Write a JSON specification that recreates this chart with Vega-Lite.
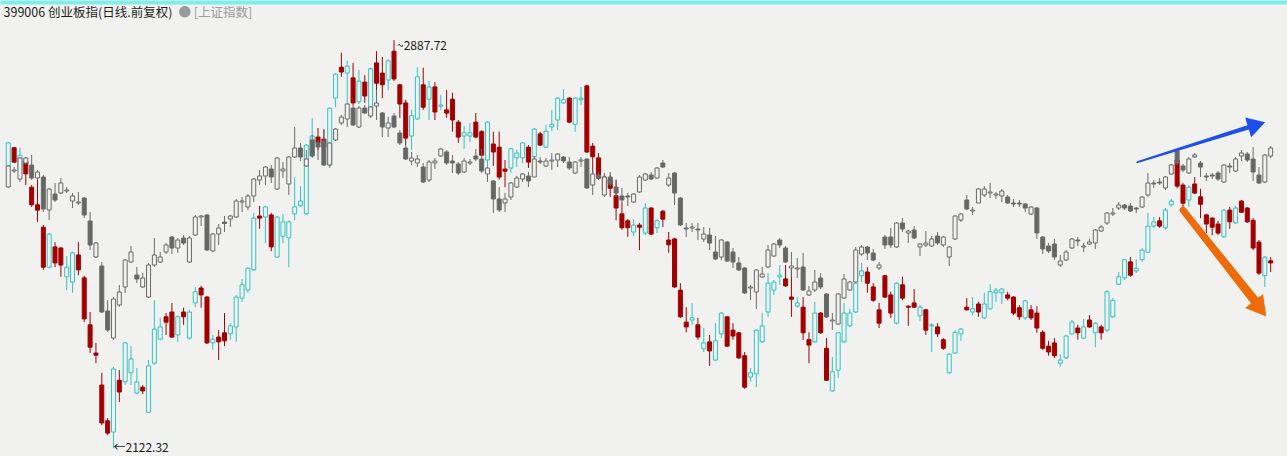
{
"$schema":"https://vega.github.io/schema/vega-lite/v6.json",
"width":1287,"height":456,
"autosize":{"type":"fit","contains":"padding"},
"padding":0,
"background":"#f1f1ef",
"config":{"view":{"stroke":null},"font":"Noto Sans CJK SC","axis":{"grid":false}},
"datasets":{
"cyb":[
{"i":0,"o":2652,"h":2697,"l":2650,"c":2695},{"i":1,"o":2686,"h":2687,"l":2657,"c":2659},{"i":2,"o":2644,"h":2686,"l":2640,"c":2672},{"i":3,"o":2661,"h":2669,"l":2616,"c":2637},{"i":4,"o":2612,"h":2616,"l":2575,"c":2579},{"i":5,"o":2579,"h":2629,"l":2547,"c":2569},{"i":6,"o":2537,"h":2541,"l":2457,"c":2462},{"i":7,"o":2462,"h":2526,"l":2460,"c":2524},{"i":8,"o":2500,"h":2509,"l":2462,"c":2470},{"i":9,"o":2498,"h":2500,"l":2444,"c":2466},
{"i":10,"o":2444,"h":2483,"l":2419,"c":2462},{"i":11,"o":2434,"h":2491,"l":2414,"c":2489},{"i":12,"o":2485,"h":2509,"l":2447,"c":2457},{"i":13,"o":2442,"h":2446,"l":2359,"c":2365},{"i":14,"o":2354,"h":2378,"l":2301,"c":2312},{"i":15,"o":2301,"h":2320,"l":2282,"c":2297},{"i":16,"o":2241,"h":2264,"l":2166,"c":2170},{"i":17,"o":2174,"h":2179,"l":2147,"c":2151},{"i":18,"o":2153,"h":2275,"l":2122.32,"c":2271},{"i":19,"o":2250,"h":2269,"l":2209,"c":2228},
{"i":20,"o":2247,"h":2322,"l":2241,"c":2320},{"i":21,"o":2264,"h":2314,"l":2241,"c":2290},{"i":22,"o":2226,"h":2273,"l":2224,"c":2247},{"i":23,"o":2237,"h":2241,"l":2224,"c":2230},{"i":24,"o":2190,"h":2288,"l":2189,"c":2277},{"i":25,"o":2282,"h":2400,"l":2279,"c":2346},{"i":26,"o":2327,"h":2367,"l":2326,"c":2350},{"i":27,"o":2369,"h":2376,"l":2335,"c":2359},{"i":28,"o":2378,"h":2395,"l":2329,"c":2331},{"i":29,"o":2335,"h":2372,"l":2322,"c":2369},
{"i":30,"o":2378,"h":2386,"l":2354,"c":2369},{"i":31,"o":2329,"h":2382,"l":2326,"c":2378},{"i":32,"o":2395,"h":2425,"l":2387,"c":2416},{"i":33,"o":2423,"h":2427,"l":2386,"c":2410},{"i":34,"o":2406,"h":2408,"l":2318,"c":2320},{"i":35,"o":2320,"h":2335,"l":2307,"c":2327},{"i":36,"o":2331,"h":2344,"l":2288,"c":2322},{"i":37,"o":2339,"h":2376,"l":2314,"c":2324},{"i":38,"o":2337,"h":2357,"l":2326,"c":2352},{"i":39,"o":2350,"h":2410,"l":2322,"c":2406},
{"i":40,"o":2404,"h":2440,"l":2397,"c":2429},{"i":41,"o":2419,"h":2462,"l":2414,"c":2460},{"i":42,"o":2457,"h":2564,"l":2455,"c":2554},{"i":43,"o":2558,"h":2577,"l":2534,"c":2554},{"i":44,"o":2556,"h":2577,"l":2507,"c":2575},{"i":45,"o":2560,"h":2564,"l":2492,"c":2500},{"i":46,"o":2481,"h":2558,"l":2479,"c":2556},{"i":47,"o":2520,"h":2562,"l":2507,"c":2547},{"i":48,"o":2517,"h":2550,"l":2462,"c":2547},{"i":49,"o":2562,"h":2631,"l":2550,"c":2575},
{"i":50,"o":2577,"h":2614,"l":2575,"c":2586},{"i":51,"o":2562,"h":2693,"l":2560,"c":2691},{"i":52,"o":2672,"h":2742,"l":2669,"c":2708},{"i":53,"o":2706,"h":2723,"l":2682,"c":2695},{"i":54,"o":2702,"h":2721,"l":2682,"c":2687},{"i":55,"o":2654,"h":2762,"l":2652,"c":2760},{"i":56,"o":2779,"h":2826,"l":2762,"c":2824},{"i":57,"o":2837,"h":2864,"l":2819,"c":2828},{"i":58,"o":2826,"h":2849,"l":2770,"c":2839},{"i":59,"o":2817,"h":2845,"l":2766,"c":2770},
{"i":60,"o":2772,"h":2832,"l":2768,"c":2811},{"i":61,"o":2809,"h":2822,"l":2770,"c":2783},{"i":62,"o":2757,"h":2836,"l":2744,"c":2834},{"i":63,"o":2845,"h":2867,"l":2781,"c":2807},{"i":64,"o":2826,"h":2856,"l":2779,"c":2804},{"i":65,"o":2813,"h":2852,"l":2794,"c":2849},{"i":66,"o":2867,"h":2887.72,"l":2811,"c":2815},{"i":67,"o":2804,"h":2806,"l":2742,"c":2768},{"i":68,"o":2770,"h":2776,"l":2691,"c":2704},{"i":69,"o":2708,"h":2757,"l":2682,"c":2746},
{"i":70,"o":2740,"h":2837,"l":2738,"c":2819},{"i":71,"o":2804,"h":2836,"l":2757,"c":2762},{"i":72,"o":2777,"h":2811,"l":2738,"c":2800},{"i":73,"o":2800,"h":2809,"l":2738,"c":2753},{"i":74,"o":2764,"h":2785,"l":2757,"c":2766},{"i":75,"o":2757,"h":2794,"l":2742,"c":2751},{"i":76,"o":2777,"h":2789,"l":2716,"c":2738},{"i":77,"o":2734,"h":2738,"l":2695,"c":2706},{"i":78,"o":2708,"h":2727,"l":2684,"c":2714},{"i":79,"o":2708,"h":2732,"l":2697,"c":2714},
{"i":80,"o":2734,"h":2751,"l":2704,"c":2706},{"i":81,"o":2716,"h":2719,"l":2669,"c":2672},{"i":82,"o":2663,"h":2736,"l":2639,"c":2734},{"i":83,"o":2693,"h":2716,"l":2652,"c":2678},{"i":84,"o":2687,"h":2716,"l":2626,"c":2631},{"i":85,"o":2646,"h":2663,"l":2612,"c":2642},{"i":86,"o":2648,"h":2686,"l":2639,"c":2684},{"i":87,"o":2667,"h":2682,"l":2650,"c":2676},{"i":88,"o":2667,"h":2697,"l":2657,"c":2695},{"i":89,"o":2687,"h":2691,"l":2648,"c":2659},
{"i":90,"o":2669,"h":2723,"l":2667,"c":2721},{"i":91,"o":2712,"h":2716,"l":2689,"c":2691},{"i":92,"o":2687,"h":2729,"l":2686,"c":2717},{"i":93,"o":2725,"h":2757,"l":2717,"c":2730},{"i":94,"o":2738,"h":2781,"l":2719,"c":2779},{"i":95,"o":2770,"h":2796,"l":2768,"c":2776},{"i":96,"o":2779,"h":2781,"l":2732,"c":2734},{"i":97,"o":2730,"h":2781,"l":2716,"c":2779},{"i":98,"o":2776,"h":2800,"l":2766,"c":2779},{"i":99,"o":2802,"h":2804,"l":2676,"c":2678},
{"i":100,"o":2689,"h":2695,"l":2635,"c":2669},{"i":101,"o":2667,"h":2676,"l":2626,"c":2629},{"i":102,"o":2631,"h":2635,"l":2597,"c":2607},{"i":103,"o":2626,"h":2635,"l":2594,"c":2610},{"i":104,"o":2596,"h":2626,"l":2550,"c":2573},{"i":105,"o":2562,"h":2584,"l":2532,"c":2536},{"i":106,"o":2549,"h":2552,"l":2519,"c":2536},{"i":107,"o":2528,"h":2552,"l":2520,"c":2541},{"i":108,"o":2541,"h":2545,"l":2494,"c":2537},{"i":109,"o":2526,"h":2582,"l":2522,"c":2573},
{"i":110,"o":2573,"h":2575,"l":2522,"c":2524},{"i":111,"o":2536,"h":2552,"l":2526,"c":2549},{"i":112,"o":2567,"h":2569,"l":2537,"c":2552},{"i":113,"o":2513,"h":2528,"l":2489,"c":2504},{"i":114,"o":2515,"h":2517,"l":2423,"c":2425},{"i":115,"o":2419,"h":2432,"l":2367,"c":2369},{"i":116,"o":2359,"h":2387,"l":2340,"c":2350},{"i":117,"o":2363,"h":2395,"l":2354,"c":2367},{"i":118,"o":2354,"h":2367,"l":2326,"c":2331},{"i":119,"o":2309,"h":2348,"l":2303,"c":2320},
{"i":120,"o":2322,"h":2335,"l":2277,"c":2305},{"i":121,"o":2288,"h":2357,"l":2286,"c":2324},{"i":122,"o":2337,"h":2378,"l":2329,"c":2376},{"i":123,"o":2369,"h":2370,"l":2312,"c":2314},{"i":124,"o":2344,"h":2357,"l":2326,"c":2333},{"i":125,"o":2339,"h":2340,"l":2290,"c":2292},{"i":126,"o":2296,"h":2303,"l":2234,"c":2237},{"i":127,"o":2256,"h":2273,"l":2247,"c":2264},{"i":128,"o":2262,"h":2346,"l":2237,"c":2344},{"i":129,"o":2322,"h":2376,"l":2320,"c":2352},
{"i":130,"o":2378,"h":2451,"l":2369,"c":2432},{"i":131,"o":2419,"h":2438,"l":2410,"c":2434},{"i":132,"o":2444,"h":2466,"l":2429,"c":2447},{"i":133,"o":2440,"h":2466,"l":2425,"c":2427},{"i":134,"o":2406,"h":2462,"l":2369,"c":2402},{"i":135,"o":2389,"h":2406,"l":2386,"c":2395},{"i":136,"o":2387,"h":2406,"l":2326,"c":2339},{"i":137,"o":2326,"h":2340,"l":2282,"c":2316},{"i":138,"o":2322,"h":2397,"l":2320,"c":2376},{"i":139,"o":2376,"h":2378,"l":2337,"c":2339},
{"i":140,"o":2310,"h":2329,"l":2249,"c":2250},{"i":141,"o":2230,"h":2294,"l":2228,"c":2266},{"i":142,"o":2269,"h":2340,"l":2254,"c":2339},{"i":143,"o":2322,"h":2395,"l":2320,"c":2376},{"i":144,"o":2352,"h":2384,"l":2350,"c":2376},{"i":145,"o":2378,"h":2434,"l":2376,"c":2432},{"i":146,"o":2446,"h":2470,"l":2434,"c":2455},{"i":147,"o":2453,"h":2462,"l":2414,"c":2432},{"i":148,"o":2425,"h":2432,"l":2397,"c":2400},{"i":149,"o":2382,"h":2395,"l":2348,"c":2357},
{"i":150,"o":2446,"h":2447,"l":2404,"c":2406},{"i":151,"o":2410,"h":2416,"l":2367,"c":2376},{"i":152,"o":2357,"h":2434,"l":2355,"c":2432},{"i":153,"o":2429,"h":2444,"l":2400,"c":2404},{"i":154,"o":2389,"h":2390,"l":2352,"c":2387},{"i":155,"o":2395,"h":2421,"l":2386,"c":2387},{"i":156,"o":2371,"h":2391,"l":2361,"c":2387},{"i":157,"o":2382,"h":2384,"l":2335,"c":2344},{"i":158,"o":2352,"h":2357,"l":2303,"c":2354},{"i":159,"o":2350,"h":2357,"l":2331,"c":2337},
{"i":160,"o":2326,"h":2329,"l":2307,"c":2310},{"i":161,"o":2264,"h":2301,"l":2262,"c":2299},{"i":162,"o":2301,"h":2344,"l":2299,"c":2340},{"i":163,"o":2337,"h":2348,"l":2324,"c":2346},{"i":164,"o":2387,"h":2404,"l":2381,"c":2382},{"i":165,"o":2378,"h":2406,"l":2372,"c":2384},{"i":166,"o":2393,"h":2397,"l":2369,"c":2378},{"i":167,"o":2367,"h":2414,"l":2365,"c":2393},{"i":168,"o":2384,"h":2430,"l":2382,"c":2416},{"i":169,"o":2414,"h":2423,"l":2397,"c":2419},
{"i":170,"o":2414,"h":2423,"l":2393,"c":2421},{"i":171,"o":2410,"h":2416,"l":2400,"c":2404},{"i":172,"o":2406,"h":2408,"l":2372,"c":2376},{"i":173,"o":2386,"h":2391,"l":2363,"c":2369},{"i":174,"o":2367,"h":2400,"l":2363,"c":2399},{"i":175,"o":2382,"h":2391,"l":2363,"c":2367},{"i":176,"o":2376,"h":2389,"l":2339,"c":2348},{"i":177,"o":2340,"h":2344,"l":2307,"c":2310},{"i":178,"o":2314,"h":2324,"l":2296,"c":2303},{"i":179,"o":2320,"h":2329,"l":2292,"c":2296},
{"i":180,"o":2282,"h":2299,"l":2275,"c":2288},{"i":181,"o":2292,"h":2335,"l":2290,"c":2333},{"i":182,"o":2337,"h":2363,"l":2335,"c":2359},{"i":183,"o":2348,"h":2354,"l":2326,"c":2339},{"i":184,"o":2329,"h":2365,"l":2327,"c":2350},{"i":185,"o":2363,"h":2372,"l":2348,"c":2350},{"i":186,"o":2339,"h":2359,"l":2312,"c":2357},{"i":187,"o":2350,"h":2354,"l":2326,"c":2339},{"i":188,"o":2344,"h":2419,"l":2340,"c":2416},{"i":189,"o":2369,"h":2404,"l":2367,"c":2400},
{"i":190,"o":2430,"h":2453,"l":2429,"c":2444},{"i":191,"o":2442,"h":2477,"l":2438,"c":2476},{"i":192,"o":2472,"h":2481,"l":2444,"c":2447},{"i":193,"o":2455,"h":2477,"l":2451,"c":2460},{"i":194,"o":2476,"h":2498,"l":2472,"c":2494},{"i":195,"o":2490,"h":2564,"l":2489,"c":2539},{"i":196,"o":2539,"h":2556,"l":2536,"c":2547},{"i":197,"o":2549,"h":2556,"l":2536,"c":2539},{"i":198,"o":2536,"h":2573,"l":2532,"c":2569},{"i":199,"o":2579,"h":2590,"l":2575,"c":2586},
{"i":200,"o":2663,"h":2682,"l":2610,"c":2614},{"i":201,"o":2616,"h":2620,"l":2575,"c":2582},{"i":202,"o":2588,"h":2616,"l":2575,"c":2612},{"i":203,"o":2618,"h":2631,"l":2599,"c":2601},{"i":204,"o":2594,"h":2609,"l":2554,"c":2580},{"i":205,"o":2560,"h":2562,"l":2526,"c":2543},{"i":206,"o":2554,"h":2556,"l":2522,"c":2537},{"i":207,"o":2543,"h":2549,"l":2522,"c":2526},{"i":208,"o":2519,"h":2571,"l":2517,"c":2569},{"i":209,"o":2569,"h":2575,"l":2534,"c":2547},
{"i":210,"o":2545,"h":2577,"l":2543,"c":2573},{"i":211,"o":2586,"h":2588,"l":2564,"c":2565},{"i":212,"o":2573,"h":2575,"l":2545,"c":2547},{"i":213,"o":2550,"h":2554,"l":2494,"c":2498},{"i":214,"o":2509,"h":2513,"l":2447,"c":2451},{"i":215,"o":2446,"h":2483,"l":2425,"c":2481},{"i":216,"o":2474,"h":2481,"l":2453,"c":2470}
],
"sh":[
{"i":0,"o":3266,"h":3310,"l":3264,"c":3308},{"i":1,"o":3298,"h":3306,"l":3294,"c":3300},{"i":2,"o":3282,"h":3326,"l":3276,"c":3324},{"i":3,"o":3314,"h":3326,"l":3310,"c":3324},{"i":4,"o":3310,"h":3330,"l":3280,"c":3284},{"i":5,"o":3284,"h":3300,"l":3280,"c":3296},{"i":6,"o":3286,"h":3290,"l":3216,"c":3222},{"i":7,"o":3220,"h":3264,"l":3200,"c":3262},{"i":8,"o":3252,"h":3274,"l":3236,"c":3240},{"i":9,"o":3254,"h":3284,"l":3252,"c":3274},
{"i":10,"o":3258,"h":3266,"l":3254,"c":3260},{"i":11,"o":3238,"h":3254,"l":3224,"c":3248},{"i":12,"o":3234,"h":3256,"l":3230,"c":3236},{"i":13,"o":3244,"h":3246,"l":3204,"c":3210},{"i":14,"o":3198,"h":3216,"l":3140,"c":3150},{"i":15,"o":3126,"h":3156,"l":3124,"c":3154},{"i":16,"o":3108,"h":3116,"l":3014,"c":3016},{"i":17,"o":3018,"h":3040,"l":2976,"c":2980},{"i":18,"o":2964,"h":3046,"l":2960,"c":3042},{"i":19,"o":3030,"h":3070,"l":3026,"c":3056},
{"i":20,"o":3066,"h":3122,"l":3054,"c":3120},{"i":21,"o":3116,"h":3148,"l":3114,"c":3136},{"i":22,"o":3090,"h":3106,"l":3074,"c":3082},{"i":23,"o":3066,"h":3094,"l":3064,"c":3084},{"i":24,"o":3046,"h":3114,"l":3044,"c":3110},{"i":25,"o":3110,"h":3164,"l":3106,"c":3130},{"i":26,"o":3116,"h":3136,"l":3114,"c":3126},{"i":27,"o":3136,"h":3154,"l":3132,"c":3150},{"i":28,"o":3166,"h":3168,"l":3132,"c":3144},{"i":29,"o":3144,"h":3164,"l":3134,"c":3160},
{"i":30,"o":3164,"h":3170,"l":3150,"c":3154},{"i":31,"o":3116,"h":3168,"l":3114,"c":3164},{"i":32,"o":3170,"h":3210,"l":3168,"c":3206},{"i":33,"o":3206,"h":3210,"l":3188,"c":3208},{"i":34,"o":3210,"h":3212,"l":3138,"c":3140},{"i":35,"o":3138,"h":3174,"l":3136,"c":3172},{"i":36,"o":3172,"h":3192,"l":3150,"c":3184},{"i":37,"o":3196,"h":3208,"l":3176,"c":3193},{"i":38,"o":3202,"h":3210,"l":3186,"c":3208},{"i":39,"o":3206,"h":3242,"l":3204,"c":3238},
{"i":40,"o":3236,"h":3246,"l":3216,"c":3238},{"i":41,"o":3226,"h":3252,"l":3220,"c":3248},{"i":42,"o":3248,"h":3284,"l":3236,"c":3282},{"i":43,"o":3280,"h":3300,"l":3270,"c":3288},{"i":44,"o":3288,"h":3308,"l":3270,"c":3306},{"i":45,"o":3302,"h":3310,"l":3274,"c":3286},{"i":46,"o":3262,"h":3326,"l":3260,"c":3324},{"i":47,"o":3298,"h":3316,"l":3284,"c":3302},{"i":48,"o":3272,"h":3328,"l":3250,"c":3326},{"i":49,"o":3326,"h":3386,"l":3324,"c":3344},
{"i":50,"o":3344,"h":3354,"l":3318,"c":3326},{"i":51,"o":3308,"h":3340,"l":3306,"c":3322},{"i":52,"o":3360,"h":3370,"l":3324,"c":3328},{"i":53,"o":3354,"h":3360,"l":3320,"c":3346},{"i":54,"o":3358,"h":3380,"l":3308,"c":3310},{"i":55,"o":3310,"h":3356,"l":3304,"c":3354},{"i":56,"o":3360,"h":3384,"l":3358,"c":3382},{"i":57,"o":3394,"h":3410,"l":3390,"c":3406},{"i":58,"o":3402,"h":3434,"l":3386,"c":3432},{"i":59,"o":3424,"h":3430,"l":3388,"c":3390},
{"i":60,"o":3386,"h":3428,"l":3384,"c":3424},{"i":61,"o":3424,"h":3430,"l":3412,"c":3414},{"i":62,"o":3408,"h":3428,"l":3404,"c":3426},{"i":63,"o":3428,"h":3460,"l":3400,"c":3434},{"i":64,"o":3414,"h":3416,"l":3366,"c":3386},{"i":65,"o":3384,"h":3406,"l":3366,"c":3394},{"i":66,"o":3408,"h":3414,"l":3384,"c":3386},{"i":67,"o":3374,"h":3380,"l":3350,"c":3354},{"i":68,"o":3344,"h":3350,"l":3320,"c":3322},{"i":69,"o":3318,"h":3336,"l":3310,"c":3324},
{"i":70,"o":3314,"h":3330,"l":3306,"c":3322},{"i":71,"o":3306,"h":3314,"l":3274,"c":3276},{"i":72,"o":3280,"h":3320,"l":3276,"c":3316},{"i":73,"o":3314,"h":3324,"l":3302,"c":3318},{"i":74,"o":3328,"h":3344,"l":3326,"c":3342},{"i":75,"o":3336,"h":3340,"l":3310,"c":3314},{"i":76,"o":3318,"h":3330,"l":3294,"c":3314},{"i":77,"o":3312,"h":3316,"l":3290,"c":3294},{"i":78,"o":3296,"h":3324,"l":3294,"c":3318},{"i":79,"o":3314,"h":3322,"l":3310,"c":3316},
{"i":80,"o":3328,"h":3342,"l":3318,"c":3322},{"i":81,"o":3322,"h":3342,"l":3294,"c":3298},{"i":82,"o":3292,"h":3306,"l":3276,"c":3304},{"i":83,"o":3278,"h":3280,"l":3214,"c":3242},{"i":84,"o":3242,"h":3266,"l":3216,"c":3220},{"i":85,"o":3234,"h":3254,"l":3216,"c":3242},{"i":86,"o":3246,"h":3276,"l":3240,"c":3274},{"i":87,"o":3266,"h":3288,"l":3264,"c":3284},{"i":88,"o":3282,"h":3294,"l":3276,"c":3292},{"i":89,"o":3288,"h":3296,"l":3266,"c":3278},
{"i":90,"o":3286,"h":3328,"l":3286,"c":3322},{"i":91,"o":3318,"h":3326,"l":3312,"c":3316},{"i":92,"o":3308,"h":3324,"l":3306,"c":3318},{"i":93,"o":3318,"h":3334,"l":3300,"c":3320},{"i":94,"o":3320,"h":3334,"l":3306,"c":3332},{"i":95,"o":3326,"h":3328,"l":3314,"c":3318},{"i":96,"o":3316,"h":3326,"l":3300,"c":3304},{"i":97,"o":3294,"h":3318,"l":3292,"c":3316},{"i":98,"o":3318,"h":3326,"l":3306,"c":3320},{"i":99,"o":3322,"h":3324,"l":3262,"c":3264},
{"i":100,"o":3270,"h":3300,"l":3250,"c":3292},{"i":101,"o":3290,"h":3296,"l":3282,"c":3284},{"i":102,"o":3250,"h":3294,"l":3246,"c":3286},{"i":103,"o":3286,"h":3296,"l":3268,"c":3272},{"i":104,"o":3266,"h":3280,"l":3246,"c":3254},{"i":105,"o":3248,"h":3264,"l":3236,"c":3240},{"i":106,"o":3248,"h":3254,"l":3228,"c":3246},{"i":107,"o":3236,"h":3254,"l":3234,"c":3252},{"i":108,"o":3256,"h":3290,"l":3254,"c":3286},{"i":109,"o":3280,"h":3294,"l":3278,"c":3292},
{"i":110,"o":3290,"h":3296,"l":3280,"c":3282},{"i":111,"o":3284,"h":3306,"l":3282,"c":3304},{"i":112,"o":3314,"h":3320,"l":3304,"c":3306},{"i":113,"o":3270,"h":3294,"l":3266,"c":3284},{"i":114,"o":3294,"h":3296,"l":3230,"c":3254},{"i":115,"o":3244,"h":3246,"l":3188,"c":3190},{"i":116,"o":3184,"h":3194,"l":3166,"c":3182},{"i":117,"o":3184,"h":3194,"l":3176,"c":3186},{"i":118,"o":3182,"h":3194,"l":3160,"c":3180},{"i":119,"o":3162,"h":3186,"l":3156,"c":3172},
{"i":120,"o":3170,"h":3184,"l":3140,"c":3154},{"i":121,"o":3136,"h":3168,"l":3120,"c":3122},{"i":122,"o":3126,"h":3162,"l":3120,"c":3160},{"i":123,"o":3156,"h":3158,"l":3116,"c":3118},{"i":124,"o":3136,"h":3144,"l":3104,"c":3116},{"i":125,"o":3114,"h":3126,"l":3098,"c":3100},{"i":126,"o":3104,"h":3106,"l":3052,"c":3054},{"i":127,"o":3064,"h":3070,"l":3040,"c":3066},{"i":128,"o":3056,"h":3102,"l":3022,"c":3100},{"i":129,"o":3086,"h":3106,"l":3084,"c":3092},
{"i":130,"o":3106,"h":3150,"l":3104,"c":3140},{"i":131,"o":3128,"h":3154,"l":3126,"c":3152},{"i":132,"o":3160,"h":3164,"l":3144,"c":3150},{"i":133,"o":3144,"h":3148,"l":3114,"c":3116},{"i":134,"o":3104,"h":3136,"l":3086,"c":3108},{"i":135,"o":3102,"h":3124,"l":3084,"c":3104},{"i":136,"o":3106,"h":3134,"l":3058,"c":3060},{"i":137,"o":3050,"h":3068,"l":3048,"c":3058},{"i":138,"o":3060,"h":3100,"l":3056,"c":3076},{"i":139,"o":3084,"h":3094,"l":3062,"c":3066},
{"i":140,"o":3052,"h":3054,"l":3004,"c":3006},{"i":141,"o":2998,"h":3014,"l":2980,"c":3000},{"i":142,"o":2992,"h":3054,"l":2990,"c":3052},{"i":143,"o":3044,"h":3092,"l":3042,"c":3082},{"i":144,"o":3060,"h":3078,"l":3058,"c":3076},{"i":145,"o":3076,"h":3146,"l":3074,"c":3140},{"i":146,"o":3132,"h":3150,"l":3128,"c":3146},{"i":147,"o":3146,"h":3148,"l":3120,"c":3134},{"i":148,"o":3134,"h":3142,"l":3118,"c":3120},{"i":149,"o":3104,"h":3116,"l":3100,"c":3110},
{"i":150,"o":3166,"h":3170,"l":3142,"c":3150},{"i":151,"o":3166,"h":3184,"l":3144,"c":3150},{"i":152,"o":3146,"h":3196,"l":3144,"c":3194},{"i":153,"o":3194,"h":3204,"l":3176,"c":3182},{"i":154,"o":3174,"h":3180,"l":3154,"c":3178},{"i":155,"o":3180,"h":3188,"l":3162,"c":3164},{"i":156,"o":3146,"h":3154,"l":3128,"c":3152},{"i":157,"o":3150,"h":3178,"l":3146,"c":3154},{"i":158,"o":3148,"h":3168,"l":3146,"c":3162},{"i":159,"o":3168,"h":3176,"l":3150,"c":3154},
{"i":160,"o":3150,"h":3168,"l":3146,"c":3166},{"i":161,"o":3126,"h":3148,"l":3108,"c":3146},{"i":162,"o":3162,"h":3210,"l":3160,"c":3208},{"i":163,"o":3200,"h":3214,"l":3196,"c":3212},{"i":164,"o":3240,"h":3250,"l":3220,"c":3222},{"i":165,"o":3218,"h":3226,"l":3210,"c":3220},{"i":166,"o":3234,"h":3264,"l":3234,"c":3262},{"i":167,"o":3250,"h":3268,"l":3246,"c":3262},{"i":168,"o":3254,"h":3274,"l":3244,"c":3256},{"i":169,"o":3250,"h":3256,"l":3242,"c":3252},
{"i":170,"o":3248,"h":3262,"l":3236,"c":3258},{"i":171,"o":3246,"h":3250,"l":3232,"c":3234},{"i":172,"o":3234,"h":3242,"l":3226,"c":3232},{"i":173,"o":3234,"h":3240,"l":3226,"c":3232},{"i":174,"o":3232,"h":3234,"l":3216,"c":3224},{"i":175,"o":3212,"h":3228,"l":3210,"c":3226},{"i":176,"o":3224,"h":3226,"l":3162,"c":3174},{"i":177,"o":3166,"h":3168,"l":3132,"c":3142},{"i":178,"o":3148,"h":3154,"l":3134,"c":3138},{"i":179,"o":3152,"h":3162,"l":3120,"c":3126},
{"i":180,"o":3110,"h":3130,"l":3106,"c":3118},{"i":181,"o":3120,"h":3140,"l":3118,"c":3136},{"i":182,"o":3144,"h":3164,"l":3142,"c":3162},{"i":183,"o":3160,"h":3166,"l":3148,"c":3158},{"i":184,"o":3146,"h":3154,"l":3136,"c":3148},{"i":185,"o":3152,"h":3162,"l":3150,"c":3156},{"i":186,"o":3154,"h":3182,"l":3142,"c":3180},{"i":187,"o":3178,"h":3190,"l":3176,"c":3186},{"i":188,"o":3194,"h":3216,"l":3190,"c":3214},{"i":189,"o":3212,"h":3224,"l":3208,"c":3214},
{"i":190,"o":3224,"h":3236,"l":3220,"c":3230},{"i":191,"o":3230,"h":3232,"l":3220,"c":3224},{"i":192,"o":3228,"h":3234,"l":3216,"c":3218},{"i":193,"o":3224,"h":3226,"l":3214,"c":3222},{"i":194,"o":3226,"h":3248,"l":3224,"c":3246},{"i":195,"o":3250,"h":3294,"l":3246,"c":3274},{"i":196,"o":3274,"h":3280,"l":3264,"c":3272},{"i":197,"o":3276,"h":3284,"l":3270,"c":3274},{"i":198,"o":3264,"h":3288,"l":3260,"c":3286},{"i":199,"o":3292,"h":3312,"l":3290,"c":3310},
{"i":200,"o":3338,"h":3342,"l":3310,"c":3314},{"i":201,"o":3308,"h":3312,"l":3296,"c":3300},{"i":202,"o":3294,"h":3326,"l":3292,"c":3322},{"i":203,"o":3326,"h":3334,"l":3324,"c":3330},{"i":204,"o":3314,"h":3318,"l":3286,"c":3306},{"i":205,"o":3288,"h":3294,"l":3278,"c":3286},{"i":206,"o":3290,"h":3294,"l":3282,"c":3288},{"i":207,"o":3294,"h":3298,"l":3278,"c":3282},{"i":208,"o":3276,"h":3312,"l":3274,"c":3310},{"i":209,"o":3308,"h":3314,"l":3294,"c":3306},
{"i":210,"o":3298,"h":3326,"l":3296,"c":3322},{"i":211,"o":3328,"h":3340,"l":3318,"c":3334},{"i":212,"o":3332,"h":3336,"l":3316,"c":3320},{"i":213,"o":3322,"h":3346,"l":3278,"c":3296},{"i":214,"o":3290,"h":3306,"l":3272,"c":3274},{"i":215,"o":3276,"h":3332,"l":3274,"c":3330},{"i":216,"o":3328,"h":3348,"l":3324,"c":3344}
],
"arrows":[
{"arrow":"blue","part":"b0","i":193.2,"v":2659},{"arrow":"blue","part":"b1","i":212.4,"v":2725},
{"arrow":"orange","part":"o0","i":201.0,"v":2569},{"arrow":"orange","part":"o1","i":213.5,"v":2396}
]
},
"layer":[
{
"data":{"name":"cyb"},
"layer":[
{"mark":{"type":"rule","strokeWidth":1},
"encoding":{
"x":{"field":"i","type":"quantitative","scale":{"domain":[-0.56,217.94],"nice":false,"zero":false},
"axis":{"orient":"top","domain":true,"domainColor":"#7eeeec","domainWidth":4,"offset":-2,"ticks":false,"labels":false,"grid":false,
"title":"399006 创业板指(日线.前复权)","titleX":3,"titleY":10,"titleAlign":"left","titleBaseline":"middle","titleFontSize":12.5,"titleFontWeight":"normal","titleColor":"#1e1e1e","titleFont":"Noto Sans CJK SC"}},
"y":{"field":"h","type":"quantitative","scale":{"domain":[2108,2963],"nice":false,"zero":false},
"axis":{"orient":"left","domain":false,"ticks":false,"labels":false,"grid":false,
"title":"●  [上证指数]","titleAngle":0,"titleX":178,"titleY":12,"titleAlign":"left","titleBaseline":"middle","titleFontSize":12.5,"titleFontWeight":"normal","titleColor":"#9a9a9a","titleFont":"Noto Sans CJK SC"}},
"y2":{"field":"l"},
"stroke":{"condition":{"test":"datum.c < datum.o","value":"#a20000"},"value":"#2fc4c4"}
}},
{"mark":{"type":"bar","size":4,"strokeWidth":1,"orient":"vertical"},
"encoding":{
"x":{"field":"i","type":"quantitative","scale":{"domain":[-0.56,217.94],"nice":false,"zero":false}},
"y":{"field":"o","type":"quantitative","scale":{"domain":[2108,2963],"nice":false,"zero":false}},
"y2":{"field":"c"},
"fill":{"condition":{"test":"datum.c < datum.o","value":"#a20000"},"value":"#f1f1ef"},
"stroke":{"condition":{"test":"datum.c < datum.o","value":"#a20000"},"value":"#2fc4c4"}
}}
]
},
{
"data":{"name":"sh"},
"layer":[
{"mark":{"type":"rule","strokeWidth":1,"color":"#6a6a6a"},
"encoding":{
"x":{"field":"i","type":"quantitative","scale":{"domain":[-0.56,217.94],"nice":false,"zero":false}},
"y":{"field":"h","type":"quantitative","scale":{"domain":[2728,3640],"nice":false,"zero":false},"axis":null},
"y2":{"field":"l"}
}},
{"mark":{"type":"bar","size":4,"strokeWidth":1,"orient":"vertical","stroke":"#6a6a6a"},
"encoding":{
"x":{"field":"i","type":"quantitative","scale":{"domain":[-0.56,217.94],"nice":false,"zero":false}},
"y":{"field":"o","type":"quantitative","scale":{"domain":[2728,3640],"nice":false,"zero":false},"axis":null},
"y2":{"field":"c"},
"fill":{"condition":{"test":"datum.c < datum.o","value":"#666666"},"value":"#f1f1ef"}
}}
]
},
{
"layer":[
{"data":{"name":"arrows"},
"mark":{"type":"trail"},
"encoding":{
"x":{"field":"i","type":"quantitative","scale":{"domain":[-0.56,217.94],"nice":false,"zero":false}},
"y":{"field":"v","type":"quantitative","scale":{"domain":[2108,2963],"nice":false,"zero":false},"axis":null},
"size":{"field":"part","type":"ordinal","scale":{"domain":["b0","b1","o0","o1"],"range":[2,9,2.5,13]},"legend":null},
"color":{"field":"arrow","type":"nominal","scale":{"domain":["blue","orange"],"range":["#1d4ff0","#ee6b0c"]},"legend":null}
}},
{"data":{"values":[{"i":213.6,"v":2729}]},
"mark":{"type":"point","shape":"triangle-right","size":420,"angle":-17,"filled":true,"color":"#1d4ff0","opacity":1,"strokeWidth":0},
"encoding":{
"x":{"field":"i","type":"quantitative","scale":{"domain":[-0.56,217.94],"nice":false,"zero":false}},
"y":{"field":"v","type":"quantitative","scale":{"domain":[2108,2963],"nice":false,"zero":false},"axis":null}
}},
{"data":{"values":[{"i":214.2,"v":2384}]},
"mark":{"type":"point","shape":"triangle-right","size":520,"angle":52,"filled":true,"color":"#ee6b0c","opacity":1,"strokeWidth":0},
"encoding":{
"x":{"field":"i","type":"quantitative","scale":{"domain":[-0.56,217.94],"nice":false,"zero":false}},
"y":{"field":"v","type":"quantitative","scale":{"domain":[2108,2963],"nice":false,"zero":false},"axis":null}
}},
{"data":{"values":[{"i":66,"v":2887.72,"label":"~2887.72"}]},
"mark":{"type":"text","align":"left","baseline":"middle","dx":3,"dy":6,"fontSize":12,"color":"#1a1a1a","font":"Noto Sans CJK SC"},
"encoding":{
"x":{"field":"i","type":"quantitative","scale":{"domain":[-0.56,217.94],"nice":false,"zero":false}},
"y":{"field":"v","type":"quantitative","scale":{"domain":[2108,2963],"nice":false,"zero":false},"axis":null},
"text":{"field":"label"}
}},
{"data":{"values":[{"i":18,"v":2122.32,"label":"←2122.32"}]},
"mark":{"type":"text","align":"left","baseline":"middle","dx":0,"dy":0,"fontSize":12,"color":"#1a1a1a","font":"Noto Sans CJK SC"},
"encoding":{
"x":{"field":"i","type":"quantitative","scale":{"domain":[-0.56,217.94],"nice":false,"zero":false}},
"y":{"field":"v","type":"quantitative","scale":{"domain":[2108,2963],"nice":false,"zero":false},"axis":null},
"text":{"field":"label"}
}}
]
}
],
"resolve":{"scale":{"y":"independent","size":"independent"},"axis":{"y":"independent"}}
}
